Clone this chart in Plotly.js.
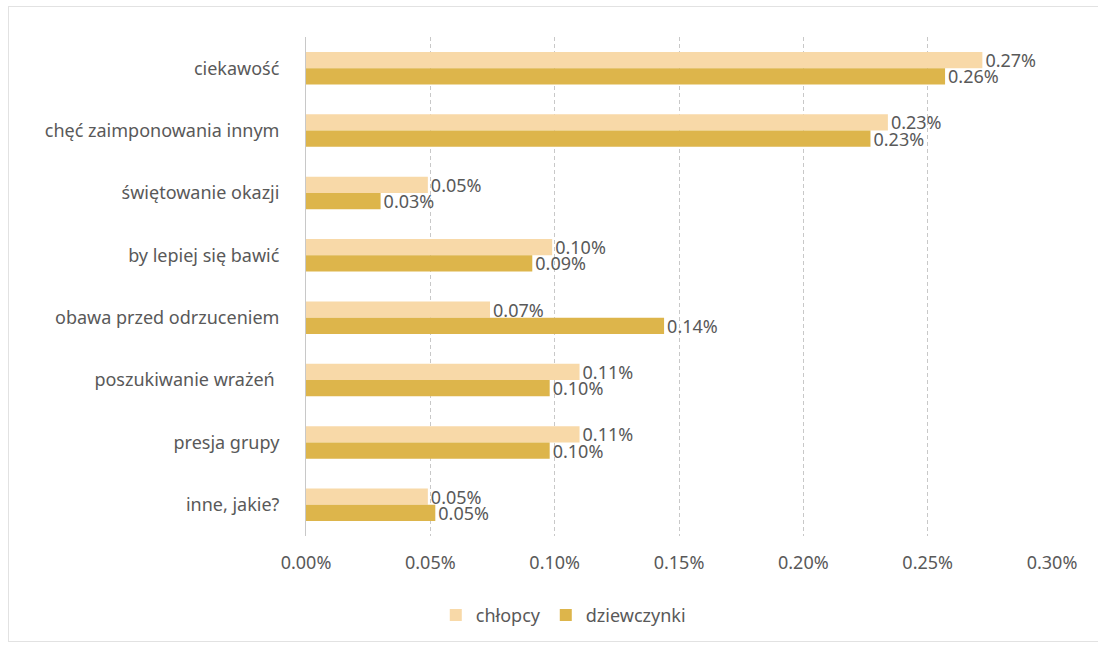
<!DOCTYPE html>
<html>
<head>
<meta charset="utf-8">
<script src="https://cdn.plot.ly/plotly-3.0.1.min.js"></script>
<style>
  html, body { margin: 0; padding: 0; background: #ffffff; }
  #chart { width: 1098px; height: 645px; }
  #frame { position: absolute; left: 8px; top: 6px; width: 1100px; height: 636px; border: 1px solid #e2e2e2; box-sizing: border-box; pointer-events: none; }
</style>
</head>
<body>
<div id="chart"></div>
<div id="frame"></div>
<script>
const categories = [
  "ciekawość",
  "chęć zaimponowania innym",
  "świętowanie okazji",
  "by lepiej się bawić",
  "obawa przed odrzuceniem",
  "poszukiwanie wrażeń ",
  "presja grupy",
  "inne, jakie?"
];
const chlopcy = [0.272, 0.234, 0.049, 0.099, 0.074, 0.110, 0.110, 0.049];
const dziewczynki = [0.257, 0.227, 0.030, 0.091, 0.144, 0.098, 0.098, 0.052];
const tickValues = [0, 0.05, 0.10, 0.15, 0.20, 0.25, 0.30];
const tickLabels = ["0.00%", "0.05%", "0.10%", "0.15%", "0.20%", "0.25%", "0.30%"];

const font = "'Noto Sans', 'Open Sans', sans-serif";
const txt = "#595959";

const traces = [
  {
    type: "bar", orientation: "h", name: "chłopcy",
    y: categories, x: chlopcy,
    marker: { color: "#F8D9A8" },
    texttemplate: "%{x:.2f}%", textposition: "outside", cliponaxis: false,
    constraintext: "none",
    textfont: { family: font, size: 18, color: txt },
    hoverinfo: "x+y"
  },
  {
    type: "bar", orientation: "h", name: "dziewczynki",
    y: categories, x: dziewczynki,
    marker: { color: "#DDB54B" },
    texttemplate: "%{x:.2f}%", textposition: "outside", cliponaxis: false,
    constraintext: "none",
    textfont: { family: font, size: 18, color: txt },
    hoverinfo: "x+y"
  }
];

const layout = {
  width: 1098, height: 645,
  margin: { l: 306, r: 46, t: 37, b: 109 },
  paper_bgcolor: "#ffffff", plot_bgcolor: "#ffffff",
  barmode: "group", bargap: 0.48, bargroupgap: 0,
  font: { family: font, size: 18, color: txt },
  showlegend: true,
  legend: {
    orientation: "h", xref: "container", x: 0.513, xanchor: "center",
    yref: "container", y: 0.046, yanchor: "middle",
    font: { family: font, size: 18, color: txt },
    traceorder: "normal", itemwidth: 30
  },
  xaxis: {
    range: [0, 0.30], tickvals: tickValues, ticktext: tickLabels,
    showgrid: true, gridcolor: "#c8c8c8", griddash: "4px,3px", gridwidth: 1,
    zeroline: false, showline: false, ticks: "", ticklen: 0,
    ticklabelstandoff: 14,
    tickfont: { family: font, size: 18, color: txt },
    fixedrange: true
  },
  yaxis: {
    type: "category", autorange: "reversed",
    showgrid: false, zeroline: false, showline: true, linecolor: "#c8c8c8", linewidth: 1,
    ticks: "", ticklabelstandoff: 22,
    tickfont: { family: font, size: 18, color: txt },
    fixedrange: true
  }
};

Plotly.newPlot("chart", traces, layout, { displayModeBar: false, staticPlot: true });
</script>
</body>
</html>
